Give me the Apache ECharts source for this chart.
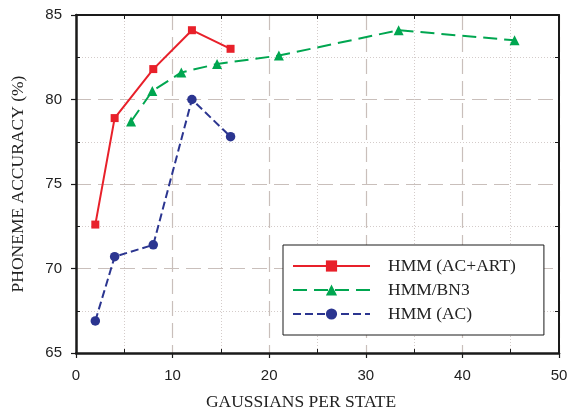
<!DOCTYPE html>
<html><head><meta charset="utf-8">
<script src="https://cdn.jsdelivr.net/npm/echarts@6/dist/echarts.min.js"></script>
<style>html,body{margin:0;padding:0;background:#fff}#c{width:576px;height:410px}</style>
</head><body><div id="c"></div>
<script>
const seriesNames = ['HMM (AC+ART)', 'HMM/BN3', 'HMM (AC)'];
const acArtX = [2, 4, 8, 12, 16];
const acArtY = [72.6, 78.9, 81.8, 84.1, 83.0];
const bn3X = [5.7, 7.9, 10.9, 14.6, 21.0, 33.4, 45.4];
const bn3Y = [78.7, 80.5, 81.6, 82.1, 82.6, 84.1, 83.5];
const acX = [2, 4, 8, 12, 16];
const acY = [66.9, 70.7, 71.4, 80.0, 77.8];
const xTicks = [0, 10, 20, 30, 40, 50];
const yTicks = [65, 70, 75, 80, 85];
const xTitle = 'GAUSSIANS PER STATE';
const yTitle = 'PHONEME ACCURACY (%)';

const pairs = (xs, ys) => xs.map((x, i) => [x, ys[i]]);
const chart = echarts.init(document.getElementById('c'), null, {renderer: 'canvas'});
const gridCol = '#c9bfbb';
const axisCol = '#1a1a1a';
const xRange = {type: 'value', min: xTicks[0], max: xTicks[xTicks.length - 1], interval: 10};
const yRange = {type: 'value', min: yTicks[0], max: yTicks[yTicks.length - 1], interval: 5};
const hidden = {
  axisLine: {show: false}, axisLabel: {show: false}, splitLine: {show: false},
  axisTick: {show: false, inside: true},
  minorTick: {show: true, splitNumber: 2, length: 4, lineStyle: {color: axisCol, width: 1}}
};
const boxed = {
  axisLine: {show: true, onZero: false, lineStyle: {color: axisCol, width: 2}},
  axisLabel: {show: false}, splitLine: {show: false},
  axisTick: {show: false, inside: true},
  minorTick: {show: true, splitNumber: 2, length: 4, lineStyle: {color: axisCol, width: 1}}
};
const mainAxis = (lblMargin) => ({
  axisLine: {show: true, onZero: false, lineStyle: {color: axisCol, width: 2.5}},
  axisTick: {show: true, inside: false, length: 5, lineStyle: {color: axisCol, width: 1.2}},
  axisLabel: {show: true, color: '#222', fontFamily: 'Liberation Sans', fontSize: 15, margin: lblMargin},
  splitLine: {show: true, lineStyle: {color: gridCol, width: 1.2, type: [15, 7]}},
  minorTick: {show: false, splitNumber: 2},
  minorSplitLine: {show: true, lineStyle: {color: '#d4ccca', width: 1, type: [1, 2]}}
});
chart.setOption({
  animation: false,
  backgroundColor: '#fff',
  grid: {left: 76, right: 17, top: 15, bottom: 57},
  xAxis: [
    Object.assign({}, xRange, mainAxis(15), {position: 'bottom'}),
    Object.assign({}, xRange, hidden, {position: 'bottom'}),
    Object.assign({}, xRange, boxed, {position: 'top'})
  ],
  yAxis: [
    Object.assign({}, yRange, mainAxis(14), {position: 'left'}),
    Object.assign({}, yRange, hidden, {position: 'left'}),
    Object.assign({}, yRange, boxed, {position: 'right'})
  ],
  legend: {
    orient: 'vertical', left: 283, top: 245,
    padding: [12, 28, 12, 9],
    itemWidth: 77, itemHeight: 14, itemGap: 6,
    borderColor: axisCol, borderWidth: 1, backgroundColor: '#fff',
    textStyle: {fontFamily: 'Liberation Serif', fontSize: 17.5, color: '#222', padding: [0, 0, 0, 13]},
    data: seriesNames
  },
  graphic: [
    {type: 'text', x: 301, y: 402, style: {text: xTitle, font: '17.5px "Liberation Serif"', fill: '#222', align: 'center', verticalAlign: 'middle'}},
    {type: 'text', x: 18, y: 184, rotation: Math.PI / 2, style: {text: yTitle, font: '17.5px "Liberation Serif"', fill: '#222', align: 'center', verticalAlign: 'middle'}}
  ],
  series: [
    {name: seriesNames[0], type: 'line', data: pairs(acArtX, acArtY), symbol: 'rect', symbolSize: 8,
     itemStyle: {color: '#e8202a'}, lineStyle: {color: '#e8202a', width: 2}, z: 4},
    {name: seriesNames[1], type: 'line', data: pairs(bn3X, bn3Y), symbol: 'triangle', symbolSize: 10,
     itemStyle: {color: '#00a650'}, lineStyle: {color: '#00a650', width: 2, type: [14, 7]}, z: 3},
    {name: seriesNames[2], type: 'line', data: pairs(acX, acY), symbol: 'circle', symbolSize: 9.5,
     itemStyle: {color: '#2b3590'}, lineStyle: {color: '#2b3590', width: 2, type: [8, 4]}, z: 5}
  ]
});
</script></body></html>
